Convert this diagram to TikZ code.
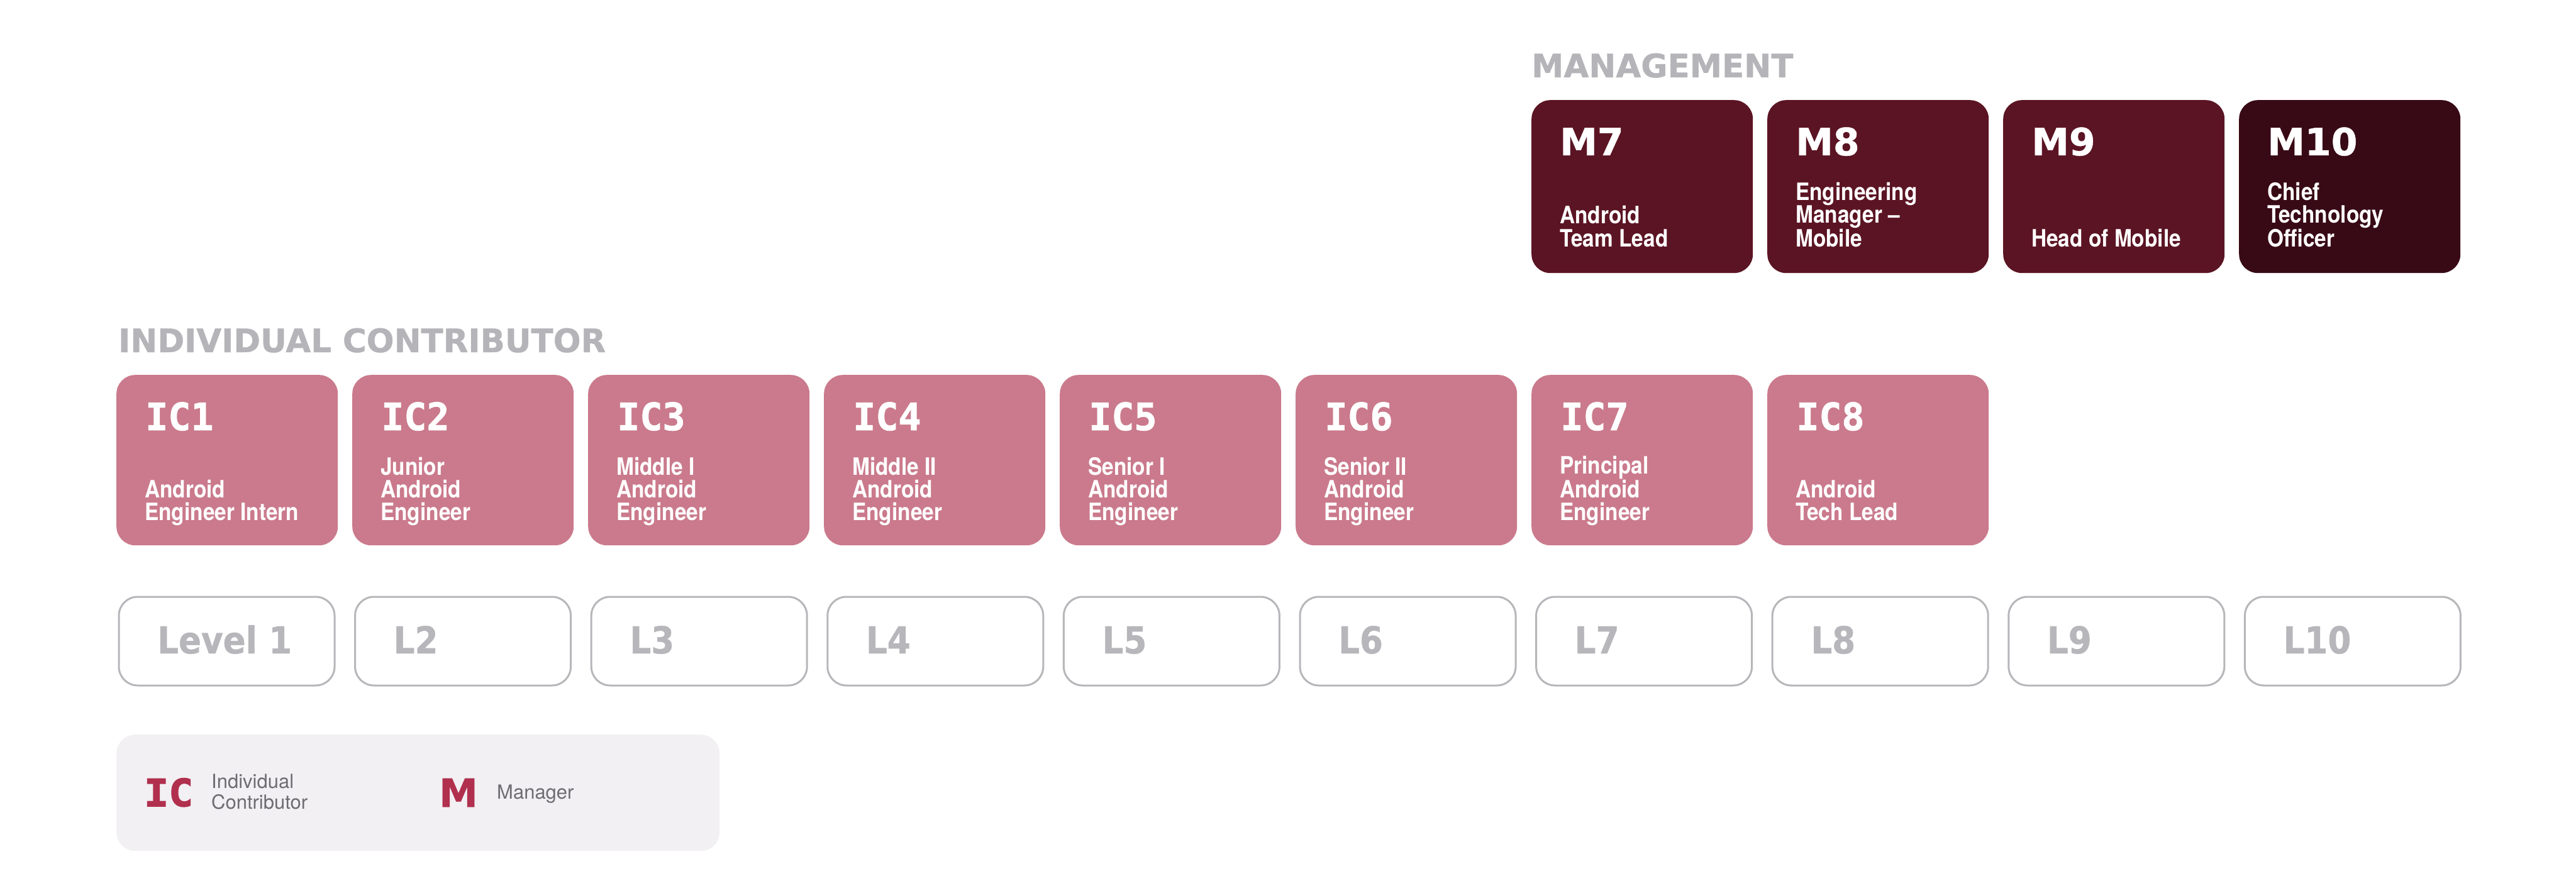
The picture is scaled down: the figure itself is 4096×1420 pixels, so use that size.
\documentclass[tikz,border=0pt]{standalone}
\usepackage{fontspec}
\setmainfont{TeX Gyre Heros}
\newfontfamily\headfont{DejaVu Sans}[FakeBold=0.8]
\newfontfamily\codefont{DejaVu Sans Mono}[FakeBold=1.5]
\newfontfamily\legcodefont{DejaVu Sans Mono}[FakeBold=2.5,FakeStretch=1.08]
\newfontfamily\lvlfont{DejaVu Sans}[FakeStretch=0.9,FakeBold=0.8]
\newfontfamily\rolefont{TeX Gyre Heros}[FakeStretch=0.88]
\definecolor{icpink}{HTML}{CA7A8C}
\definecolor{mgmt}{HTML}{5B1423}
\definecolor{mgmtdark}{HTML}{380A15}
\definecolor{headgrey}{HTML}{B5B4B8}
\definecolor{lvlgrey}{HTML}{B7B6BA}
\definecolor{legbg}{HTML}{F2F0F3}
\definecolor{legred}{HTML}{B0304E}
\definecolor{legtext}{HTML}{6D6C71}
\tikzset{
  card/.style={draw=none, rounded corners=30pt, minimum width=352pt, anchor=north west, inner sep=0pt},
  icbox/.style={card, fill=icpink, minimum height=271pt},
  mbox/.style={card, fill=mgmt, minimum height=275pt},
  lvlbox/.style={draw=lvlgrey, line width=3pt, fill=white, rounded corners=30pt, minimum width=343pt, minimum height=141pt, anchor=north west, inner sep=0pt},
  iccode/.style={anchor=base west, inner sep=0pt, text=white, font=\codefont\bfseries\fontsize{60}{60}\selectfont},
  mcode/.style={anchor=base west, inner sep=0pt, text=white, font=\headfont\bfseries\fontsize{60}{60}\selectfont},
  role/.style={anchor=base west, inner sep=0pt, text=white, align=left, font=\rolefont\bfseries\fontsize{38}{36}\selectfont},
  lvltext/.style={anchor=base west, inner sep=0pt, text=lvlgrey, font=\lvlfont\bfseries\fontsize{59}{59}\selectfont},
  heading/.style={anchor=base west, inner sep=0pt, text=headgrey, font=\headfont\bfseries\fontsize{51.5}{52}\selectfont},
  legtxt/.style={anchor=base west, inner sep=0pt, text=legtext, align=left, font=\fontsize{31}{33}\selectfont},
}
\begin{document}
\begin{tikzpicture}[x=1pt,y=-1pt]
\useasboundingbox[fill=white] (0,0) rectangle (4096,1420);

% headings
\node[heading] (hmgmt) at (2435,123) {MANAGEMENT};
\node[heading] (hic) at (188,560) {INDIVIDUAL CONTRIBUTOR};

% management cards
\foreach \i/\t in {7/{Android\\Team Lead}, 8/{Engineering\\Manager –\\Mobile}, 9/{Head of Mobile}, 10/{Chief\\Technology\\Officer}}{
  \ifnum\i=10
    \node[mbox, fill=mgmtdark] (m\i) at ({185+375*(\i-1)},159) {};
  \else
    \node[mbox] (m\i) at ({185+375*(\i-1)},159) {};
  \fi
  \node[mcode] (mc\i) at ({185+375*(\i-1)+45},247) {M\i};
  \node[role] (mt\i) at ({185+375*(\i-1)+45},392) {\t};
}

% IC cards
\foreach \i/\t in {1/{Android\\Engineer Intern}, 2/{Junior\\Android\\Engineer}, 3/{Middle I\\Android\\Engineer}, 4/{Middle II\\Android\\Engineer}, 5/{Senior I\\Android\\Engineer}, 6/{Senior II\\Android\\Engineer}, 7/{Principal\\Android\\Engineer}, 8/{Android\\Tech Lead}}{
  \node[icbox] (ic\i) at ({185+375*(\i-1)},596) {};
  \node[iccode] (icc\i) at ({185+375*(\i-1)+46},684) {IC\i};
  \node[role] (ict\i) at ({185+375*(\i-1)+45},827) {\t};
}

% level boxes
\foreach \i/\t in {1/Level 1, 2/L2, 3/L3, 4/L4, 5/L5, 6/L6, 7/L7, 8/L8, 9/L9, 10/L10}{
  \node[lvlbox] (l\i) at ({186+375.6*(\i-1)+1.5},947.5) {};
  \node[lvltext] (lt\i) at ({186+375.6*(\i-1)+64},1039) {\t};
}

% legend
\node[draw=none, fill=legbg, rounded corners=30pt, minimum width=959pt, minimum height=185pt, anchor=north west, inner sep=0pt] (legend) at (185,1168) {};
\node[anchor=base west, inner sep=0pt, text=legred, font=\legcodefont\bfseries\fontsize{60}{60}\selectfont] (legic) at (229,1282) {IC};
\node[legtxt] (legict) at (336,1286) {Individual\\Contributor};
\node[anchor=base west, inner sep=0pt, text=legred, font=\headfont\bfseries\fontsize{62}{62}\selectfont] (legm) at (698,1283) {M};
\node[legtxt] (legmt) at (790,1270) {Manager};
\end{tikzpicture}
\end{document}
